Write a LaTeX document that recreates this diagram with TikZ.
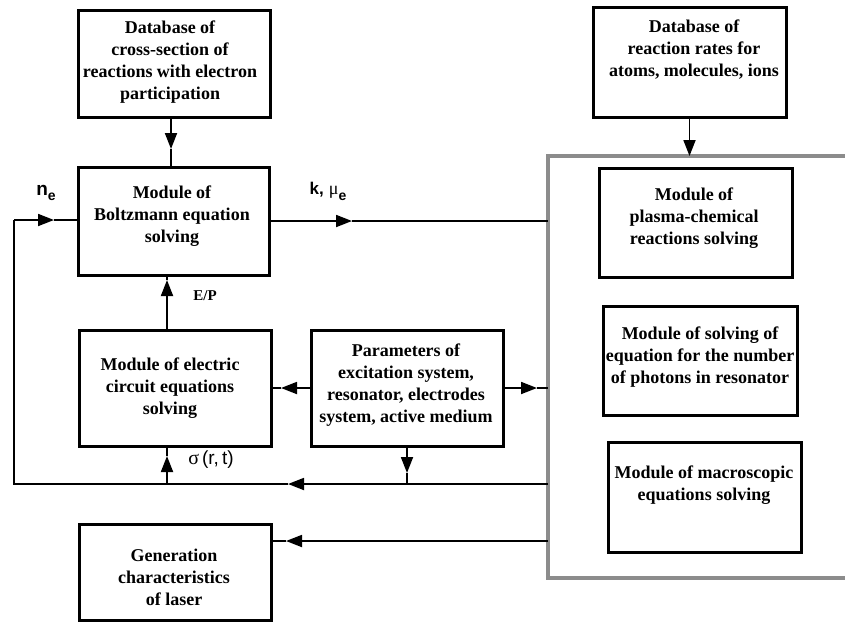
\documentclass[tikz,border=0pt]{standalone}
\usepackage{fontspec}
\setmainfont{Liberation Serif}
\newfontfamily\arialf{Liberation Sans}
\usetikzlibrary{arrows.meta}
\begin{document}
\begin{tikzpicture}[x=1pt,y=-1pt,
  box/.style={draw=black, line width=3pt, inner sep=0pt, fill=none},
  txt/.style={align=center, font=\fontsize{18}{22}\selectfont\bfseries, inner sep=0pt},
  conn/.style={line width=1.8pt},
  tip/.style={-{Triangle[length=16pt 0,width=12pt 0]}},
  grayframe/.style={draw=black!45, line width=4pt},
  lbl/.style={inner sep=0pt}
]
\useasboundingbox (0,0) rectangle (845,630);

% boxes
\node[box, minimum width=192pt, minimum height=107pt] (A) at (174,63.5) {};
\node[box, minimum width=191pt, minimum height=108pt] (B) at (173.5,221) {};
\node[box, minimum width=192pt, minimum height=116pt] (C) at (175,388) {};
\node[box, minimum width=192pt, minimum height=116pt] (D) at (407,388) {};
\node[box, minimum width=192pt, minimum height=96pt]  (E) at (175,572) {};
\node[box, minimum width=193pt, minimum height=110pt] (I) at (689.5,62) {};
\node[box, minimum width=193pt, minimum height=109pt] (F) at (695.5,222.5) {};
\node[box, minimum width=194pt, minimum height=109pt] (G) at (700,360.5) {};
\node[box, minimum width=193pt, minimum height=110pt] (H) at (704.5,497) {};

% texts
\node[txt] (tA) at (170,62) {Database of\\cross-section of\\reactions with electron\\participation};
\node[txt] (tB) at (172,216) {Module of\\Boltzmann equation\\solving};
\node[txt] (tC) at (170,388) {Module of electric\\circuit equations\\solving};
\node[txt] (tD) at (406,385) {Parameters of\\excitation system,\\resonator, electrodes\\system, active medium};
\node[txt] (tE) at (174,577) {Generation\\characteristics\\of laser};
\node[txt] (tI) at (694,50) {Database of\\reaction rates for\\atoms, molecules, ions};
\node[txt] (tF) at (694,218) {Module of\\plasma-chemical\\reactions solving};
\node[txt] (tG) at (700,357) {Module of solving of\\equation for the number\\of photons in resonator};
\node[txt] (tH) at (704,485) {Module of macroscopic\\equations solving};

% gray frame
\coordinate (gTR) at (845,156);
\coordinate (gTL) at (548,156);
\coordinate (gBL) at (548,578);
\coordinate (gBR) at (845,578);
\draw[grayframe] (gTR) -- (gTL) -- (gBL) -- (gBR);

% helper coordinates
\coordinate (ax) at (171,0);
\coordinate (vx) at (167,0);
\coordinate (bR) at (548,484);
\coordinate (bL) at (14,484);
\coordinate (nE) at (14,220);
\coordinate (eR) at (548,541);

% A -> B
\coordinate (abT) at (171,149);
\draw[conn,tip] (ax |- A.south) -- (abT);
\draw[conn] (abT) -- (ax |- B.north);

% I -> gray frame
\draw[conn,tip] (I.south) -- (I.south |- gTL);

% C -> B (E/P)
\coordinate (epT) at (167,280);
\draw[conn,tip] (vx |- C.north) -- (epT);
\draw[conn] (epT) -- (vx |- B.south);

% B -> frame (k, mu_e)
\coordinate (kT) at (352,221);
\draw[conn,tip] (B.east) -- (kT);
\draw[conn] (kT) -- (B.east -| gTL);

% D -> C
\coordinate (dcT) at (281,388);
\draw[conn,tip] (D.west) -- (dcT);
\draw[conn] (dcT) -- (C.east);

% D -> frame
\coordinate (dgT) at (537,388);
\draw[conn,tip] (D.east) -- (dgT);
\draw[conn] (dgT) -- (D.east -| gTL);

% D down to bottom line
\coordinate (ddT) at (407,473);
\draw[conn,tip] (D.south) -- (ddT);
\draw[conn] (ddT) -- (D.south |- bL);

% bottom line from frame to left
\coordinate (blT) at (288,484);
\draw[conn,tip] (bR) -- (blT);
\draw[conn] (blT) -- (bL) -- (nE);

% n_e into B
\coordinate (neT) at (54,220);
\draw[conn,tip] (nE) -- (neT);
\draw[conn] (neT) -- (neT -| B.west);

% sigma up into C
\coordinate (sgT) at (167,456);
\draw[conn,tip] (vx |- bL) -- (sgT);
\draw[conn] (sgT) -- (vx |- C.south);

% frame -> E
\coordinate (geT) at (286,541);
\draw[conn,tip] (eR) -- (geT);
\draw[conn] (geT) -- (eR -| E.east);

% labels
\node[lbl] (lne) at (46,193) {\arialf\bfseries\fontsize{19}{19}\selectfont n\raisebox{-5pt}{\fontsize{14}{14}\selectfont e}};
\node[lbl] (lk) at (328,191) {{\arialf\bfseries\fontsize{17}{17}\selectfont k,}\hspace{5pt}{\fontsize{18}{18}\selectfont μ}\raisebox{-6pt}{\arialf\bfseries\fontsize{14}{14}\selectfont e}};
\node[lbl] (lep) at (205,296) {\bfseries\fontsize{15}{15}\selectfont E/P};
\node[lbl] (lsg) at (211,460) {{\fontsize{20}{20}\selectfont σ}\hspace{3pt}{\arialf\fontsize{19}{19}\selectfont (r,\,t)}};
\end{tikzpicture}
\end{document}
